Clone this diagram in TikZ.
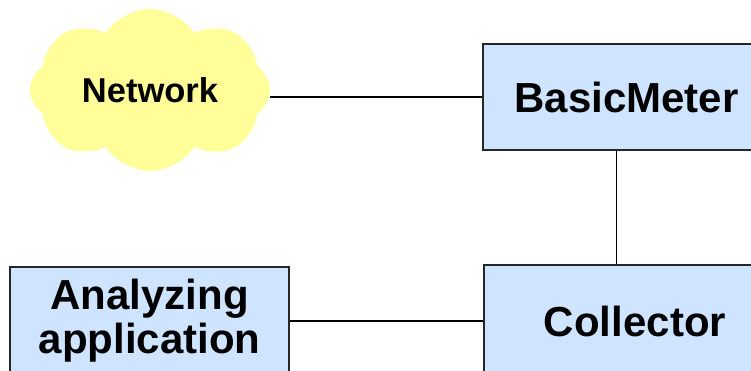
\documentclass[tikz,border=0pt]{standalone}
\usepackage{fontspec}
\setmainfont{Liberation Sans}
\usetikzlibrary{shapes.symbols}
\definecolor{boxfill}{RGB}{206,228,255}
\definecolor{cloudfill}{RGB}{255,255,153}
\tikzset{
  box/.style={draw=black!85, line width=1.5pt, fill=boxfill, inner sep=0pt, font=\bfseries\fontsize{42}{44}\selectfont, align=center},
  netcloud/.style={cloud, cloud puffs=8, cloud puff arc=115, aspect=1.5, fill=cloudfill, draw=none, inner sep=0pt, font=\bfseries\fontsize{34.5}{36}\selectfont},
  link/.style={line width=1.5pt, draw=black}
}
\begin{document}
\begin{tikzpicture}[x=1pt,y=-1pt]
\useasboundingbox (0,0) rectangle (751,370);
\clip (0,0) rectangle (751,370);
\node[netcloud, minimum width=240, minimum height=162] (net) at (150,90) {Network};
\node[box, minimum width=287, minimum height=106] (bm) at (626.5,97) {BasicMeter};
\node[box, minimum width=302, minimum height=112] (col) at (635,321) {Collector};
\node[box, minimum width=279, minimum height=108] (ana) at (149.5,321) {Analyzing\\application};
\draw[link] (bm.west) -- (bm.west -| net.east);
\draw[link] ([xshift=134pt]bm.south west) -- ([xshift=134pt]bm.south west |- col.north);
\draw[link] (ana.east) -- (col.west);
\end{tikzpicture}
\end{document}
